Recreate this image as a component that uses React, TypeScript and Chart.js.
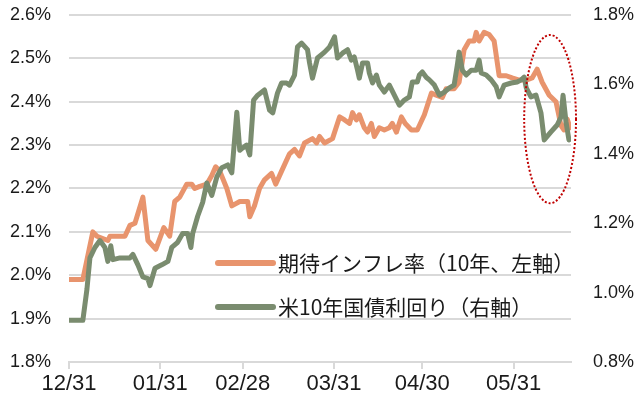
import React, { useEffect, useRef } from 'react';
import { Chart, registerables } from 'chart.js';

Chart.register(...registerables);

// X axis: days since 12/31
const xTickDays = [0, 31, 59, 90, 120, 151];
const xTickLabels = ['12/31', '01/31', '02/28', '03/31', '04/30', '05/31'];

const inflationLabel = '期待インフレ率（10年、左軸）';
const yieldLabel = '米10年国債利回り（右軸）';

const inflationDays = [
  0, 4.7, 8.1, 9.5, 13.2, 13.9, 19, 20.7, 22.4, 25.1,
  26.8, 29.5, 32.2, 34.2, 35.9, 37.6, 40, 41.7, 42.7, 44.4,
  46.8, 48.5, 49.8, 51.2, 53.6, 55.3, 58, 60.7, 61.4, 63,
  64.7, 66.4, 68.8, 70.2, 72.2, 74.9, 76.6, 78.3, 80, 82.7,
  84.1, 85.1, 86.8, 89.5, 91.9, 93.6, 95.3, 96.3, 97.6, 98.6,
  100.3, 101.4, 102.7, 103.7, 105.4, 107.1, 108.8, 109.8, 111.2, 112.9,
  114.2, 116.3, 118.3, 120.7, 123.1, 124.7, 126.8, 128.1, 130.8, 132.5,
  134.2, 135.9, 137.6, 138.3, 139.3, 141, 142.7, 144.4, 146.1, 148.5,
  150.5, 152.9, 155.3, 157.3, 159, 160.7, 163.1, 165.4, 167.1, 168.1,
  169.2, 170.2,
];
const inflationValues = [
  1.99, 1.99, 2.10, 2.09, 2.08, 2.09, 2.09, 2.115, 2.12, 2.18,
  2.08, 2.06, 2.11, 2.09, 2.17, 2.18, 2.21, 2.21, 2.20, 2.205,
  2.21, 2.23, 2.25, 2.24, 2.20, 2.16, 2.17, 2.17, 2.135, 2.16,
  2.20, 2.22, 2.235, 2.21, 2.24, 2.28, 2.29, 2.275, 2.305, 2.315,
  2.305, 2.32, 2.305, 2.315, 2.365, 2.358, 2.35, 2.375, 2.358, 2.37,
  2.34, 2.33, 2.35, 2.32, 2.34, 2.335, 2.34, 2.35, 2.33, 2.365,
  2.35, 2.335, 2.335, 2.37, 2.42, 2.415, 2.41, 2.43, 2.43, 2.445,
  2.52, 2.54, 2.54, 2.56, 2.54, 2.56, 2.555, 2.54, 2.46, 2.46,
  2.455, 2.45, 2.45, 2.455, 2.475, 2.445, 2.415, 2.40, 2.345, 2.335,
  2.36, 2.34,
];

const yieldDays = [
  0, 4.7, 6.1, 7.1, 8.8, 10.5, 12.2, 13.2, 14.2, 14.9,
  17.3, 20.7, 21.7, 23.4, 25.1, 26.8, 27.5, 29.2, 31.5, 33.6,
  34.9, 36.9, 38.6, 40.3, 41.4, 42, 43.7, 45.4, 46.8, 48.5,
  50.2, 51.9, 53.9, 55.3, 57, 58, 59, 60.3, 61.4, 62.7,
  64.1, 66.4, 68.1, 69.2, 70.8, 72.2, 73.9, 74.9, 76.6, 77.6,
  79, 81, 81.7, 82.7, 84.4, 86.8, 88.5, 90.2, 91.2, 92.9,
  94.6, 95.9, 96.9, 98, 98.6, 99.7, 101.4, 102, 103.1, 104.4,
  105.4, 107.1, 108.8, 110.5, 112.2, 113.9, 115.6, 116.6, 118.3, 119,
  120, 121.4, 122.4, 124.1, 125.8, 127.5, 129.2, 130.8, 131.9, 132.5,
  133.6, 134.9, 136.6, 138.3, 139.3, 140, 141.7, 143.4, 145.1, 146.1,
  147.8, 150.2, 152.2, 153.6, 154.6, 155.3, 156.9, 158.6, 160.3, 161.4,
  163.7, 165.8, 167.1, 167.8, 168.8, 169.8,
];
const yieldValues = [
  0.92, 0.92, 1.01, 1.10, 1.13, 1.15, 1.13, 1.09, 1.135, 1.095,
  1.10, 1.10, 1.11, 1.08, 1.045, 1.04, 1.02, 1.07, 1.08, 1.09,
  1.13, 1.145, 1.17, 1.17, 1.13, 1.17, 1.22, 1.26, 1.316, 1.28,
  1.333, 1.36, 1.368, 1.345, 1.52, 1.41, 1.417, 1.425, 1.397, 1.555,
  1.569, 1.584, 1.526, 1.518, 1.575, 1.604, 1.604, 1.598, 1.627, 1.708,
  1.719, 1.70, 1.662, 1.618, 1.676, 1.693, 1.708, 1.737, 1.676, 1.69,
  1.70, 1.67, 1.679, 1.641, 1.618, 1.662, 1.662, 1.633, 1.604, 1.627,
  1.598, 1.578, 1.598, 1.569, 1.54, 1.555, 1.564, 1.607, 1.607, 1.627,
  1.636, 1.62, 1.613, 1.598, 1.569, 1.578, 1.59, 1.598, 1.656, 1.693,
  1.641, 1.627, 1.641, 1.641, 1.67, 1.633, 1.627, 1.613, 1.593, 1.564,
  1.598, 1.604, 1.607, 1.613, 1.621, 1.59, 1.564, 1.569, 1.518, 1.44,
  1.463, 1.483, 1.506, 1.569, 1.492, 1.44,
];

// highlight ellipse (annotation), in data units (x days, left-axis value)
const ellipseCenter = [163.4, 2.36];
const ellipseRadius = [8.8, 0.194];

const ORANGE = '#E8946D';
const GREEN = '#7A8C6F';
const GRID = '#D9D9D9';

const legendPlugin = {
  id: 'insideLegend',
  afterDatasetsDraw(chart: any) {
    const { ctx, chartArea } = chart;
    const items = [
      { color: ORANGE, text: inflationLabel, y: chartArea.top + 248 },
      { color: GREEN, text: yieldLabel, y: chartArea.top + 292 },
    ];
    const x0 = chartArea.left + 149;
    ctx.save();
    items.forEach((it) => {
      ctx.beginPath();
      ctx.strokeStyle = it.color;
      ctx.lineWidth = 6;
      ctx.lineCap = 'round';
      ctx.moveTo(x0, it.y);
      ctx.lineTo(x0 + 55, it.y);
      ctx.stroke();
      ctx.fillStyle = '#1a1a1a';
      ctx.font = '21px "Noto Sans CJK JP"';
      ctx.textBaseline = 'middle';
      ctx.textAlign = 'left';
      ctx.fillText(it.text, x0 + 60, it.y);
    });
    ctx.restore();
  },
};

const ellipsePlugin = {
  id: 'highlightEllipse',
  afterDatasetsDraw(chart: any) {
    const { ctx, scales } = chart;
    const cx = scales.x.getPixelForValue(ellipseCenter[0]);
    const cy = scales.y.getPixelForValue(ellipseCenter[1]);
    const rx = Math.abs(scales.x.getPixelForValue(ellipseCenter[0] + ellipseRadius[0]) - cx);
    const ry = Math.abs(scales.y.getPixelForValue(ellipseCenter[1] + ellipseRadius[1]) - cy);
    ctx.save();
    ctx.beginPath();
    ctx.strokeStyle = '#C00000';
    ctx.lineWidth = 2;
    ctx.setLineDash([2, 2]);
    ctx.ellipse(cx, cy, rx, ry, 0, 0, Math.PI * 2);
    ctx.stroke();
    ctx.restore();
  },
};

const fitVertical = (s: any) => {
  s.width = 69;
  s.paddingTop = 0;
  s.paddingBottom = 0;
};

export default function App() {
  const ref = useRef<HTMLCanvasElement | null>(null);

  useEffect(() => {
    if (!ref.current) return;
    const chart = new Chart(ref.current, {
      type: 'line',
      data: {
        datasets: [
          {
            label: inflationLabel,
            data: inflationDays.map((d, i) => ({ x: d, y: inflationValues[i] })),
            borderColor: ORANGE,
            backgroundColor: ORANGE,
            borderWidth: 5,
            pointRadius: 0,
            tension: 0,
            borderJoinStyle: 'round',
            borderCapStyle: 'round',
            yAxisID: 'y',
            order: 1,
          },
          {
            label: yieldLabel,
            data: yieldDays.map((d, i) => ({ x: d, y: yieldValues[i] })),
            borderColor: GREEN,
            backgroundColor: GREEN,
            borderWidth: 5,
            pointRadius: 0,
            tension: 0,
            borderJoinStyle: 'round',
            borderCapStyle: 'round',
            yAxisID: 'y1',
            order: 0,
          },
        ],
      },
      options: {
        animation: false,
        responsive: false,
        maintainAspectRatio: false,
        layout: { padding: { top: 15, left: 0, right: 0, bottom: 0 } },
        plugins: {
          legend: { display: false },
          tooltip: { enabled: false },
        },
        scales: {
          x: {
            type: 'linear',
            min: 0,
            max: 170.5,
            afterBuildTicks: (s: any) => {
              s.ticks = xTickDays.map((v) => ({ value: v }));
            },
            afterFit: (s: any) => {
              s.height = 37;
              s.paddingLeft = 0;
              s.paddingRight = 0;
            },
            ticks: {
              autoSkip: false,
              maxRotation: 0,
              padding: 2,
              color: '#1a1a1a',
              font: { family: '"Liberation Sans", Arial, sans-serif', size: 22 },
              callback: (v: any) => {
                const i = xTickDays.indexOf(Number(v));
                return i >= 0 ? xTickLabels[i] : '';
              },
            },
            grid: {
              drawOnChartArea: false,
              drawTicks: true,
              tickLength: 7,
              color: GRID,
              lineWidth: 2,
            },
            border: { display: true, color: GRID, width: 2 },
          },
          y: {
            position: 'left',
            min: 1.8,
            max: 2.6,
            afterFit: fitVertical,
            ticks: {
              stepSize: 0.1,
              padding: 18,
              color: '#1a1a1a',
              font: { family: '"Liberation Sans", Arial, sans-serif', size: 18 },
              callback: (v: any) => Number(v).toFixed(1) + '%',
            },
            grid: { color: GRID, lineWidth: 2, drawTicks: false },
            border: { display: false },
          },
          y1: {
            position: 'right',
            min: 0.8,
            max: 1.8,
            afterFit: fitVertical,
            ticks: {
              stepSize: 0.2,
              padding: 22,
              color: '#1a1a1a',
              font: { family: '"Liberation Sans", Arial, sans-serif', size: 18 },
              callback: (v: any) => Number(v).toFixed(1) + '%',
            },
            grid: { display: false, drawTicks: false },
            border: { display: false },
          },
        },
      },
      plugins: [legendPlugin, ellipsePlugin],
    } as any);
    return () => chart.destroy();
  }, []);

  return (
    <div style={{ position: 'absolute', left: 0, top: 0, width: 640, height: 399, background: '#fff' }}>
      <canvas ref={ref} width={640} height={399} />
    </div>
  );
}
